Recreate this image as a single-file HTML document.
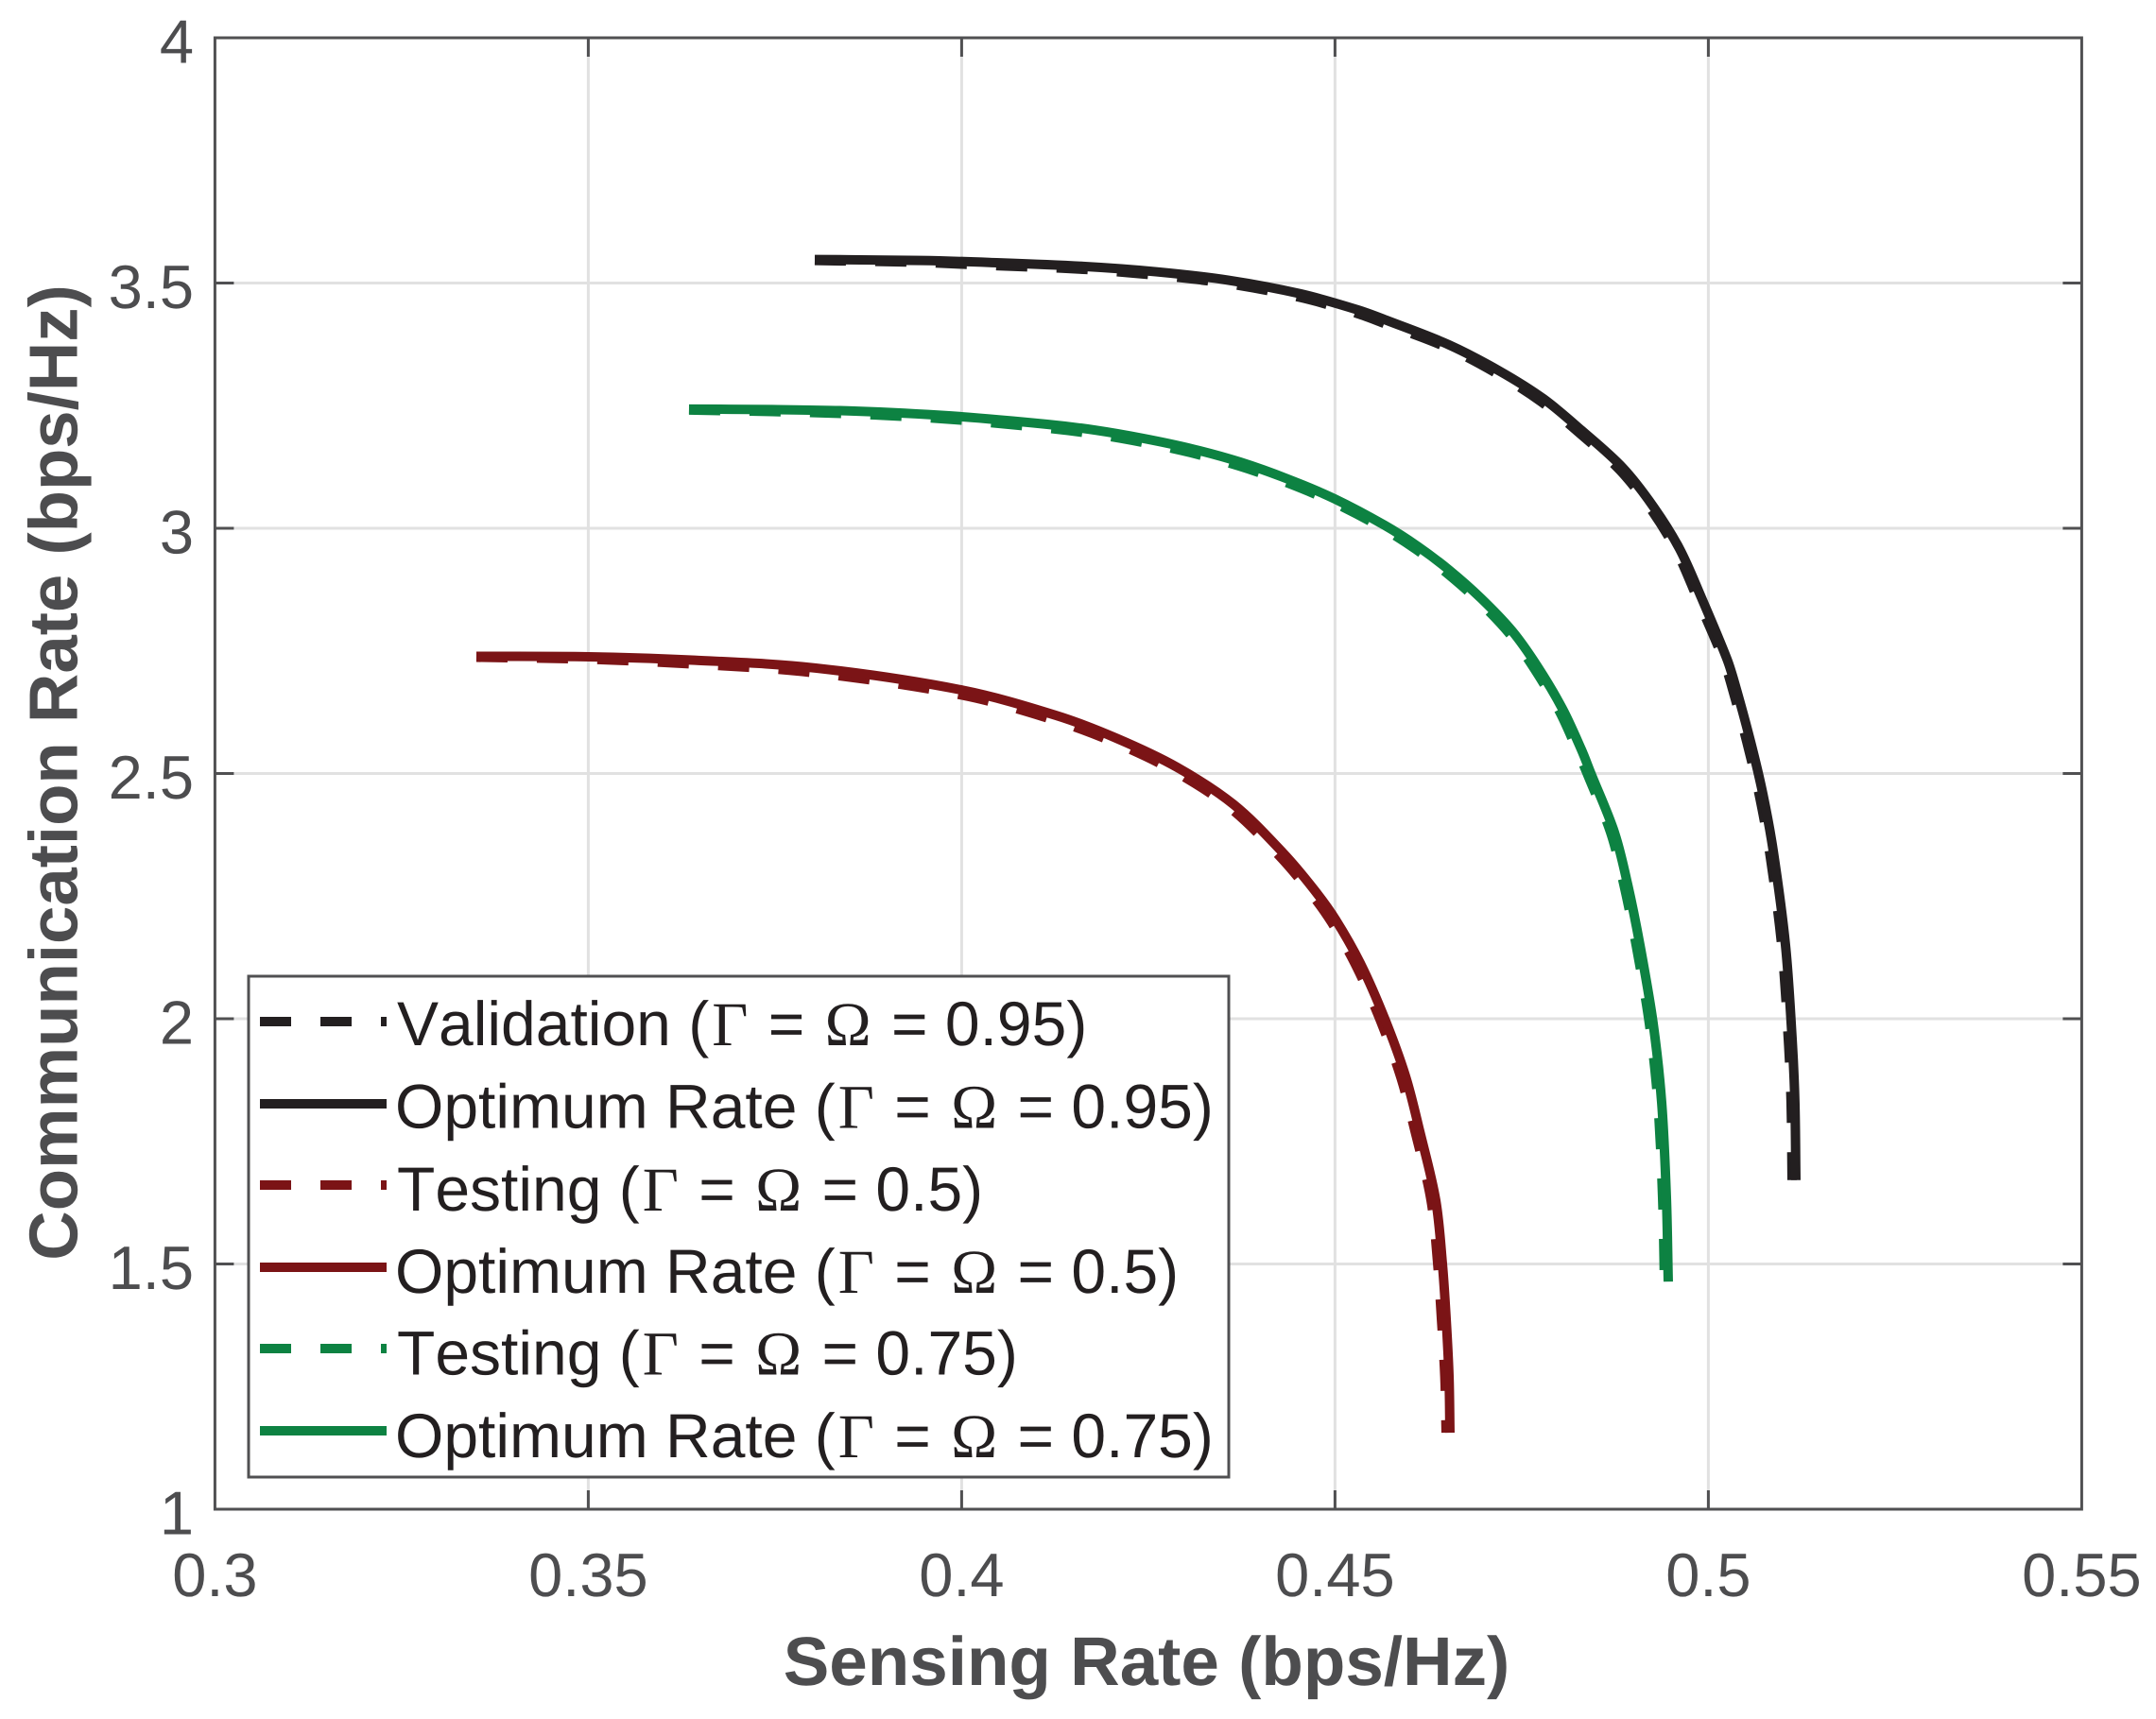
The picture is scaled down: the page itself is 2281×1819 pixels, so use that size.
<!DOCTYPE html>
<html lang="en">
<head>
<meta charset="utf-8">
<title>Communication Rate vs Sensing Rate</title>
<style>
html,body{margin:0;padding:0;background:#fff;}
svg{display:block;}
text{font-family:"Liberation Sans",Arial,sans-serif;font-kerning:none;text-rendering:geometricPrecision;}
.sym{font-family:"Liberation Serif","Times New Roman",serif;}
</style>
</head>
<body>
<svg id="chart" xmlns="http://www.w3.org/2000/svg" width="2281" height="1819" viewBox="0 0 2281 1819">
  <rect x="0" y="0" width="2281" height="1819" fill="#ffffff"/>
  <g id="grid"></g>
  <g id="series"></g>
  <g id="axes"></g>
  <text x="1213" y="1783" text-anchor="middle" font-size="72.8" font-weight="700" fill="#4d4d4f">Sensing Rate (bps/Hz)</text>
  <text transform="translate(81.5 817.5) rotate(-90)" x="0" y="0" text-anchor="middle" font-size="72.6" font-weight="700" fill="#4d4d4f">Communication Rate (bps/Hz)</text>
  <g id="legend">
    <rect x="263" y="1033" width="1037" height="530" fill="#ffffff" stroke="#505052" stroke-width="3"/>
    <g>
      <line x1="275" y1="1081" x2="409" y2="1081" stroke="#231f20" stroke-width="10" stroke-dasharray="33 31"/>
      <text x="420" y="1106" font-size="66" fill="#231f20">Validation (<tspan class="sym" dx="3">Γ</tspan><tspan dx="3"> = </tspan><tspan class="sym" dx="3">Ω</tspan><tspan dx="3"> = 0.95)</tspan></text>
    </g>
    <g>
      <line x1="275" y1="1168" x2="409" y2="1168" stroke="#231f20" stroke-width="10"/>
      <text x="418" y="1193.5" font-size="66" fill="#231f20">Optimum Rate (<tspan class="sym" dx="3">Γ</tspan><tspan dx="3"> = </tspan><tspan class="sym" dx="3">Ω</tspan><tspan dx="3"> = 0.95)</tspan></text>
    </g>
    <g>
      <line x1="275" y1="1254" x2="409" y2="1254" stroke="#7b1416" stroke-width="10" stroke-dasharray="33 31"/>
      <text x="420" y="1281" font-size="66" fill="#231f20">Testing (<tspan class="sym" dx="3">Γ</tspan><tspan dx="3"> = </tspan><tspan class="sym" dx="3">Ω</tspan><tspan dx="3"> = 0.5)</tspan></text>
    </g>
    <g>
      <line x1="275" y1="1341" x2="409" y2="1341" stroke="#7b1416" stroke-width="10"/>
      <text x="418" y="1368" font-size="66" fill="#231f20">Optimum Rate (<tspan class="sym" dx="3">Γ</tspan><tspan dx="3"> = </tspan><tspan class="sym" dx="3">Ω</tspan><tspan dx="3"> = 0.5)</tspan></text>
    </g>
    <g>
      <line x1="275" y1="1427" x2="409" y2="1427" stroke="#0d8242" stroke-width="10" stroke-dasharray="33 31"/>
      <text x="420" y="1454.5" font-size="66" fill="#231f20">Testing (<tspan class="sym" dx="3">Γ</tspan><tspan dx="3"> = </tspan><tspan class="sym" dx="3">Ω</tspan><tspan dx="3"> = 0.75)</tspan></text>
    </g>
    <g>
      <line x1="275" y1="1514" x2="409" y2="1514" stroke="#0d8242" stroke-width="10"/>
      <text x="418" y="1542" font-size="66" fill="#231f20">Optimum Rate (<tspan class="sym" dx="3">Γ</tspan><tspan dx="3"> = </tspan><tspan class="sym" dx="3">Ω</tspan><tspan dx="3"> = 0.75)</tspan></text>
    </g>
  </g>
</svg>
<script>
// Axis ticks
const xTickValues = [0.3, 0.35, 0.4, 0.45, 0.5, 0.55];
const xTickLabels = ["0.3", "0.35", "0.4", "0.45", "0.5", "0.55"];
const yTickValues = [1, 1.5, 2, 2.5, 3, 3.5, 4];
const yTickLabels = ["1", "1.5", "2", "2.5", "3", "3.5", "4"];

// Gamma = Omega = 0.95
const validation95X = [0.38033,0.39451,0.40375,0.41628,0.42603,0.43559,0.44526,0.45298,0.45672,0.46508,0.47185,0.47760,0.48267,0.48818,0.49235,0.49571,0.49855,0.50197,0.50298,0.50514,0.50678,0.50817,0.50982,0.51071,0.51108,0.51121];
const validation95Y = [3.546,3.542,3.536,3.528,3.516,3.499,3.471,3.438,3.417,3.368,3.314,3.258,3.195,3.118,3.038,2.954,2.856,2.734,2.686,2.565,2.459,2.343,2.150,1.958,1.829,1.671];
const optimum95X = [0.38033,0.39451,0.40375,0.41628,0.42603,0.43565,0.44539,0.45311,0.45691,0.46527,0.47210,0.47792,0.48299,0.48856,0.49273,0.49615,0.49906,0.50248,0.50349,0.50565,0.50729,0.50868,0.51033,0.51122,0.51159,0.51172];
const optimum95Y = [3.548,3.546,3.542,3.534,3.523,3.506,3.478,3.445,3.424,3.374,3.320,3.264,3.200,3.123,3.042,2.958,2.859,2.734,2.686,2.565,2.459,2.343,2.150,1.958,1.829,1.671];

// Gamma = Omega = 0.5
const testing50X = [0.33501,0.35008,0.36425,0.38046,0.40002,0.41260,0.42052,0.42856,0.43603,0.44255,0.44665,0.44957,0.45292,0.45609,0.45881,0.46071,0.46286,0.46375,0.46426,0.46471,0.46488];
const testing50Y = [2.737,2.733,2.723,2.705,2.660,2.608,2.563,2.504,2.429,2.332,2.258,2.196,2.105,1.996,1.881,1.771,1.630,1.501,1.387,1.270,1.156];
const optimum50X = [0.33501,0.35008,0.36425,0.38046,0.40008,0.41273,0.42071,0.42881,0.43641,0.44299,0.44716,0.45008,0.45349,0.45666,0.45944,0.46134,0.46349,0.46438,0.46489,0.46527,0.46539];
const optimum50Y = [2.739,2.738,2.731,2.715,2.670,2.618,2.572,2.513,2.437,2.339,2.264,2.202,2.110,2.000,1.883,1.771,1.630,1.501,1.387,1.270,1.156];

// Gamma = Omega = 0.75
const testing75X = [0.36349,0.37463,0.38565,0.39856,0.41147,0.41786,0.42432,0.43071,0.43716,0.44356,0.44976,0.45641,0.46084,0.46495,0.46919,0.47337,0.47672,0.48002,0.48248,0.48374,0.48691,0.48868,0.49033,0.49210,0.49324,0.49387,0.49412];
const testing75Y = [3.241,3.238,3.233,3.222,3.204,3.192,3.175,3.154,3.127,3.093,3.053,3.000,2.957,2.909,2.852,2.785,2.713,2.628,2.546,2.501,2.380,2.274,2.150,1.990,1.829,1.636,1.464];
const optimum75X = [0.36349,0.37463,0.38565,0.39856,0.41147,0.41792,0.42438,0.43084,0.43729,0.44375,0.44995,0.45666,0.46109,0.46527,0.46957,0.47375,0.47716,0.48046,0.48299,0.48425,0.48742,0.48919,0.49084,0.49261,0.49375,0.49438,0.49463];
const optimum75Y = [3.243,3.242,3.239,3.229,3.212,3.200,3.183,3.162,3.135,3.100,3.060,3.006,2.963,2.915,2.857,2.790,2.717,2.632,2.549,2.501,2.380,2.274,2.150,1.990,1.829,1.636,1.464];

const NS = "http://www.w3.org/2000/svg";
const plotLeft = 227.4, plotRight = 2202.4, plotTop = 40, plotBottom = 1597;
const xMin = 0.3, xMax = 0.55, yMin = 1, yMax = 4;
const tickLen = 20;
const axisColor = "#505052", gridColor = "#e1e1e1", labelColor = "#4d4d4f";
const black = "#231f20", red = "#7b1416", green = "#0d8242";

function xScale(v) { return plotLeft + (v - xMin) / (xMax - xMin) * (plotRight - plotLeft); }
function yScale(v) { return plotBottom - (v - yMin) / (yMax - yMin) * (plotBottom - plotTop); }

function makeLine(parent, x1, y1, x2, y2, color, width) {
  const el = document.createElementNS(NS, "line");
  el.setAttribute("x1", x1);
  el.setAttribute("y1", y1);
  el.setAttribute("x2", x2);
  el.setAttribute("y2", y2);
  el.setAttribute("stroke", color);
  el.setAttribute("stroke-width", width);
  parent.appendChild(el);
  return el;
}

function makeLabel(parent, x, y, anchor, content) {
  const el = document.createElementNS(NS, "text");
  el.setAttribute("x", x);
  el.setAttribute("y", y);
  el.setAttribute("text-anchor", anchor);
  el.setAttribute("font-size", "65");
  el.setAttribute("fill", labelColor);
  el.textContent = content;
  parent.appendChild(el);
  return el;
}

// Smooth path through the data points; handle length follows segment length
function curvePath(xs, ys) {
  const pts = xs.map(function (v, i) { return [xScale(v), yScale(ys[i])]; });
  function tangent(i) {
    const a = pts[Math.max(i - 1, 0)];
    const b = pts[Math.min(i + 1, pts.length - 1)];
    const dx = b[0] - a[0], dy = b[1] - a[1];
    const len = Math.hypot(dx, dy) || 1;
    return [dx / len, dy / len];
  }
  let d = "M" + pts[0][0].toFixed(2) + " " + pts[0][1].toFixed(2);
  for (let i = 0; i < pts.length - 1; i++) {
    const p1 = pts[i];
    const p2 = pts[i + 1];
    const h = Math.hypot(p2[0] - p1[0], p2[1] - p1[1]) / 3;
    const t1 = tangent(i);
    const t2 = tangent(i + 1);
    d += "C" + (p1[0] + t1[0] * h).toFixed(2) + " " + (p1[1] + t1[1] * h).toFixed(2) + " " + (p2[0] - t2[0] * h).toFixed(2) + " " + (p2[1] - t2[1] * h).toFixed(2) + " " + p2[0].toFixed(2) + " " + p2[1].toFixed(2);
  }
  return d;
}

function makeCurve(xs, ys, color, dashed) {
  const el = document.createElementNS(NS, "path");
  el.setAttribute("d", curvePath(xs, ys));
  el.setAttribute("fill", "none");
  el.setAttribute("stroke", color);
  el.setAttribute("stroke-width", "10");
  el.setAttribute("stroke-linejoin", "round");
  if (dashed) {
    el.setAttribute("stroke-dasharray", "33 31");
  }
  document.getElementById("series").appendChild(el);
  return el;
}

const gridGroup = document.getElementById("grid");
const axesGroup = document.getElementById("axes");

// Grid lines
xTickValues.forEach(function (v) {
  if (v === xMin || v === xMax) return;
  const el = makeLine(gridGroup, xScale(v), plotTop, xScale(v), plotBottom, gridColor, 3);
  
  
});
yTickValues.forEach(function (v) {
  if (v === yMin || v === yMax) return;
  const el = makeLine(gridGroup, plotLeft, yScale(v), plotRight, yScale(v), gridColor, 3);
  
  
});

// Series
const curveValidation95 = makeCurve(validation95X, validation95Y, black, true);


const curveOptimum95 = makeCurve(optimum95X, optimum95Y, black, false);


const curveTesting50 = makeCurve(testing50X, testing50Y, red, true);


const curveOptimum50 = makeCurve(optimum50X, optimum50Y, red, false);


const curveTesting75 = makeCurve(testing75X, testing75Y, green, true);


const curveOptimum75 = makeCurve(optimum75X, optimum75Y, green, false);



// Tick marks and labels
xTickValues.forEach(function (v, i) {
  const x = xScale(v);
  if (v !== xMin && v !== xMax) {
    const tickBottom = makeLine(axesGroup, x, plotBottom, x, plotBottom - tickLen, axisColor, 3);
    
    
    const tickTop = makeLine(axesGroup, x, plotTop, x, plotTop + tickLen, axisColor, 3);
    
    
  }
  const label = makeLabel(axesGroup, x, 1689, "middle", xTickLabels[i]);
  
  
});
yTickValues.forEach(function (v, i) {
  const y = yScale(v);
  if (v !== yMin && v !== yMax) {
    const tickLeft = makeLine(axesGroup, plotLeft, y, plotLeft + tickLen, y, axisColor, 3);
    
    
    const tickRight = makeLine(axesGroup, plotRight, y, plotRight - tickLen, y, axisColor, 3);
    
    
  }
  const label = makeLabel(axesGroup, 205, y + 26.5, "end", yTickLabels[i]);
  
  
});

// Plot frame
const frame = document.createElementNS(NS, "rect");


frame.setAttribute("x", plotLeft);
frame.setAttribute("y", plotTop);
frame.setAttribute("width", plotRight - plotLeft);
frame.setAttribute("height", plotBottom - plotTop);
frame.setAttribute("fill", "none");
frame.setAttribute("stroke", axisColor);
frame.setAttribute("stroke-width", "3");
axesGroup.appendChild(frame);
</script>
</body>
</html>
